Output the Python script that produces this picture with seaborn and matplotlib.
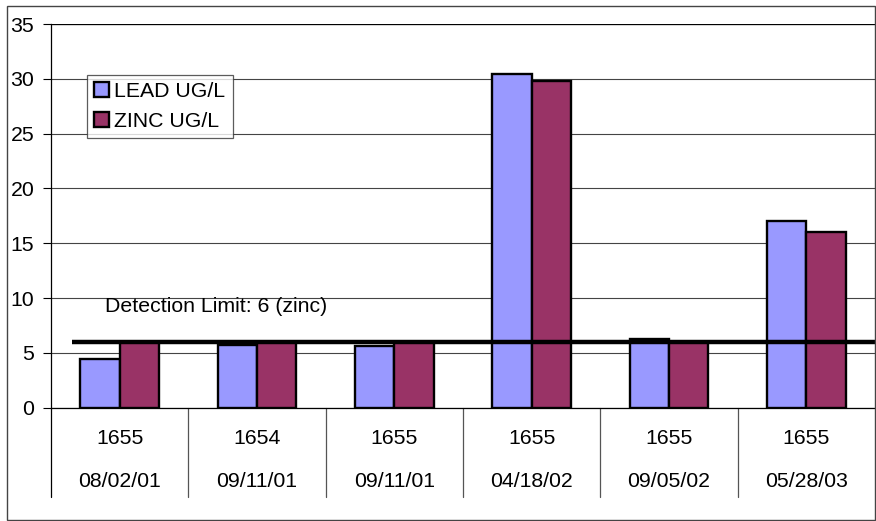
import numpy as np
import pandas as pd
import matplotlib
matplotlib.use("Agg")
import matplotlib.pyplot as plt
import matplotlib.transforms as mtransforms
from matplotlib.patches import Patch, Rectangle
import seaborn as sns

# Sample identifiers (site number and sampling date) and measured metals
sites = ["1655", "1654", "1655", "1655", "1655", "1655"]
dates = ["08/02/01", "09/11/01", "09/11/01", "04/18/02", "09/05/02", "05/28/03"]
lead = [4.4, 5.7, 5.6, 30.4, 6.3, 17.0]
zinc = [6.0, 6.0, 6.0, 29.8, 6.0, 16.0]
series_names = ["LEAD UG/L", "ZINC UG/L"]
detection_limit = 6
detection_label = "Detection Limit: 6 (zinc)"
y_ticks = [0, 5, 10, 15, 20, 25, 30, 35]

colors = ["#9999FF", "#993366"]

keys = [f"{s} {d}" for s, d in zip(sites, dates)]
df = pd.DataFrame({
    "sample": keys * 2,
    "metal": [series_names[0]] * len(keys) + [series_names[1]] * len(keys),
    "value": lead + zinc,
})

sns.set_style("white")
plt.rcParams["font.family"] = ["Liberation Sans", "DejaVu Sans"]
for key in ["text.color", "xtick.color", "ytick.color", "axes.labelcolor"]:
    plt.rcParams[key] = "black"
FS = 15.3

W, H = 876, 521
fig = plt.figure(figsize=(W / 100, H / 100), dpi=100)
ax = fig.add_axes([51 / W, 1 - 407.7 / H, 824 / W, 383.7 / H])

sns.barplot(data=df, x="sample", y="value", hue="metal", order=keys,
            hue_order=series_names, palette=colors, width=0.575, gap=0,
            edgecolor="black", linewidth=1.7, saturation=1, legend=False,
            errorbar=None, ax=ax, zorder=3)

ax.set_xlim(-0.5, len(keys) - 0.5)
ax.set_ylim(0, 35)
ax.set_yticks(y_ticks)
ax.set_yticklabels([str(t) for t in y_ticks], fontsize=FS)
ax.tick_params(axis="y", direction="out", length=6, width=0.8, pad=6,
               color="black", labelcolor="black", left=True)
ax.set_xticks([])
ax.set_xlabel("")
ax.set_ylabel("")
ax.yaxis.grid(True, color="#444444", linewidth=0.8, zorder=0)
ax.set_axisbelow(True)
for side in ["top", "right"]:
    ax.spines[side].set_visible(False)
ax.spines["left"].set_color("black")
ax.spines["bottom"].set_color("black")
ax.spines["left"].set_linewidth(0.9)
ax.spines["bottom"].set_linewidth(0.9)
ax.axhline(35, color="black", linewidth=0.9, zorder=1)

# Two-row category labels with separators below the axis
trans = mtransforms.blended_transform_factory(ax.transData, ax.transAxes)
sep_bottom = -(497 - 407.7) / 383.7
for b in np.arange(-0.5, len(keys) - 0.5, 1.0):
    ax.plot([b, b], [0, sep_bottom], transform=trans,
            color="#555555" if b > -0.5 else "black",
            linewidth=0.9, clip_on=False)
row1 = -(439 - 407.7) / 383.7
row2 = -(481.5 - 407.7) / 383.7
for i, (s, d) in enumerate(zip(sites, dates)):
    ax.text(i, row1, s, transform=trans, ha="center", va="center", fontsize=FS)
    ax.text(i, row2, d, transform=trans, ha="center", va="center", fontsize=FS)

# Detection limit line and its label
ax.plot([-0.347, len(keys) - 0.5], [detection_limit, detection_limit],
        color="black", linewidth=3.2, solid_capstyle="butt", zorder=5, clip_on=False)
ax.text(-0.107, 9.2, detection_label, ha="left", va="center", fontsize=FS, zorder=6)

handles = [Patch(facecolor=c, edgecolor="black", linewidth=1.7) for c in colors]
leg = ax.legend(handles, series_names, loc="upper left",
                bbox_to_anchor=((86.7 - 51) / 824, (407.7 - 74.7) / 383.7),
                borderaxespad=0, fontsize=FS, frameon=True, fancybox=False,
                handlelength=0.7, handleheight=0.7, handletextpad=0.25,
                borderpad=0.35, labelspacing=0.5)
leg.get_frame().set_edgecolor("#333333")
leg.get_frame().set_linewidth(0.9)
leg.set_zorder(7)

# Outer chart border
fig.patches.append(Rectangle((7 / W, 1 - 520 / H), (875 - 7) / W, (520 - 6) / H,
                             transform=fig.transFigure, fill=False,
                             edgecolor="#444444", linewidth=1.0))

fig.savefig("out.png", dpi=100, facecolor="white")
